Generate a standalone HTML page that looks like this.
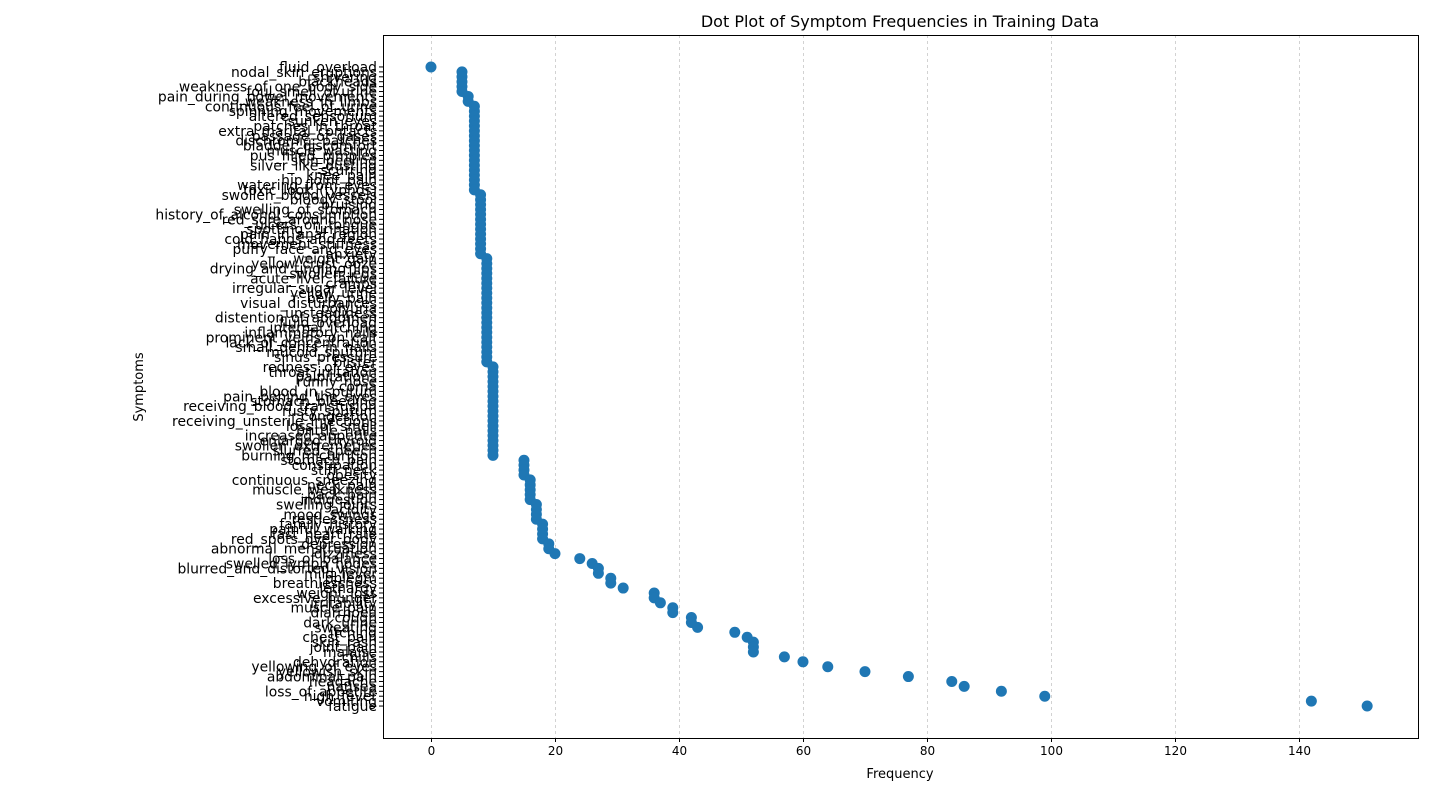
<!DOCTYPE html>
<html><head><meta charset="utf-8"><style>
html,body{margin:0;padding:0;background:#fff;}
svg{display:block;font-family:"DejaVu Sans","Liberation Sans",sans-serif;}
</style></head><body>
<svg id="chart" width="1440" height="796">
<text x="900" y="27" font-size="16" text-anchor="middle" fill="#000">Dot Plot of Symptom Frequencies in Training Data</text>
<text x="900" y="778" font-size="13" text-anchor="middle" fill="#000">Frequency</text>
<text x="0" y="0" font-size="13" text-anchor="middle" fill="#000" transform="translate(143,387) rotate(-90)">Symptoms</text>
<g id="grid"></g><g id="yticks"></g><g id="xticks"></g><g id="dots"></g>
<rect x="383.5" y="35.5" width="1035" height="703" fill="none" stroke="#000" stroke-width="1"/>
</svg>
<script>
const symptoms = ["fluid_overload","nodal_skin_eruptions","shivering","blackheads","weakness_of_one_body_side","foul_smell_of urine","pain_during_bowel_movements","weakness_in_limbs","continuous_feel_of_urine","spinning_movements","altered_sensorium","sunken_eyes","patches_in_throat","extra_marital_contacts","passage_of_gases","dischromic _patches","bladder_discomfort","muscle_wasting","pus_filled_pimples","skin_peeling","silver_like_dusting","scurring","knee_pain","hip_joint_pain","watering_from_eyes","toxic_look_(typhos)","swollen_blood_vessels","bloody_stool","bruising","swelling_of_stomach","history_of_alcohol_consumption","red_sore_around_nose","ulcers_on_tongue","spotting_ urination","pain_in_anal_region","cold_hands_and_feets","movement_stiffness","puffy_face_and_eyes","anxiety","weight_gain","yellow_crust_ooze","drying_and_tingling_lips","swollen_legs","acute_liver_failure","cramps","irregular_sugar_level","yellow_urine","belly_pain","visual_disturbances","polyuria","unsteadiness","distention_of_abdomen","fluid_overload","internal_itching","inflammatory_nails","prominent_veins_on_calf","lack_of_concentration","small_dents_in_nails","mucoid_sputum","sinus_pressure","blister","redness_of_eyes","throat_irritation","palpitations","runny_nose","coma","blood_in_sputum","pain_behind_the_eyes","stomach_bleeding","receiving_blood_transfusion","rusty_sputum","congestion","receiving_unsterile_injections","loss_of_smell","brittle_nails","increased_appetite","enlarged_thyroid","swollen_extremeties","slurred_speech","burning_micturition","stomach_pain","constipation","stiff_neck","obesity","continuous_sneezing","neck_pain","muscle_weakness","back_pain","indigestion","swelling_joints","acidity","mood_swings","restlessness","family_history","painful_walking","fast_heart_rate","red_spots_over_body","depression","abnormal_menstruation","dizziness","loss_of_balance","swelled_lymph_nodes","blurred_and_distorted_vision","mild_fever","phlegm","breathlessness","lethargy","weight_loss","excessive_hunger","irritability","muscle_pain","diarrhoea","cough","dark_urine","sweating","itching","chest_pain","skin_rash","joint_pain","malaise","chills","dehydration","yellowing_of_eyes","yellowish_skin","abdominal_pain","headache","nausea","loss_of_appetite","high_fever","vomiting","fatigue"];
const frequencies = [0,5,5,5,5,5,6,6,7,7,7,7,7,7,7,7,7,7,7,7,7,7,7,7,7,7,8,8,8,8,8,8,8,8,8,8,8,8,8,9,9,9,9,9,9,9,9,9,9,9,9,9,9,9,9,9,9,9,9,9,9,10,10,10,10,10,10,10,10,10,10,10,10,10,10,10,10,10,10,10,15,15,15,15,16,16,16,16,16,17,17,17,17,18,18,18,18,19,19,20,24,26,27,27,29,29,31,36,36,37,39,39,42,42,43,49,51,52,52,52,57,60,64,70,77,84,86,92,99,142,151];
const xTicks = [0,20,40,60,80,100,120,140];

const NS="http://www.w3.org/2000/svg";
const L=383,R=1418,T=35,B=738;
const xmin=-7.74,xmax=159.2;
const xs=v=>L+(v-xmin)/(xmax-xmin)*(R-L);
const n=symptoms.length;
const ys=i=>{const span=(n-1)*1.1;return T+((i+(n-1)*0.05)/span)*(B-T);};
function mk(tag,attrs,parent){const e=document.createElementNS(NS,tag);for(const k in attrs)e.setAttribute(k,attrs[k]);parent.appendChild(e);return e;}
const grid=document.getElementById('grid'),xt=document.getElementById('xticks'),yt=document.getElementById('yticks'),dots=document.getElementById('dots');
xTicks.forEach(t=>{
  const x=Math.round(xs(t))+0.5;
  const g=mk('line',{x1:x,x2:x,y1:T,y2:B,stroke:'#b0b0b0','stroke-width':0.8,'stroke-dasharray':'3,3','stroke-opacity':0.7},grid);
  
  
  const tk=mk('line',{x1:x,x2:x,y1:B,y2:B+4,stroke:'#000','stroke-width':1},xt);
  
  
  const lb=mk('text',{x:x,y:B+17,'font-size':12,'text-anchor':'middle',fill:'#000'},xt);
  lb.textContent=t;
  
  
});
symptoms.forEach((s,i)=>{
  const y=ys(i);
  const tk=mk('line',{x1:L-4,x2:L,y1:y,y2:y,stroke:'#000','stroke-width':1},yt);
  
  
  const lb=mk('text',{x:L-6,y:y+5,'font-size':13.9,'text-anchor':'end',fill:'#000'},yt);
  lb.textContent=s;
  
  
  const c=mk('circle',{cx:xs(frequencies[i]),cy:y,r:5.5,fill:'#1f77b4'},dots);
  
  
});
</script>
</body></html>
